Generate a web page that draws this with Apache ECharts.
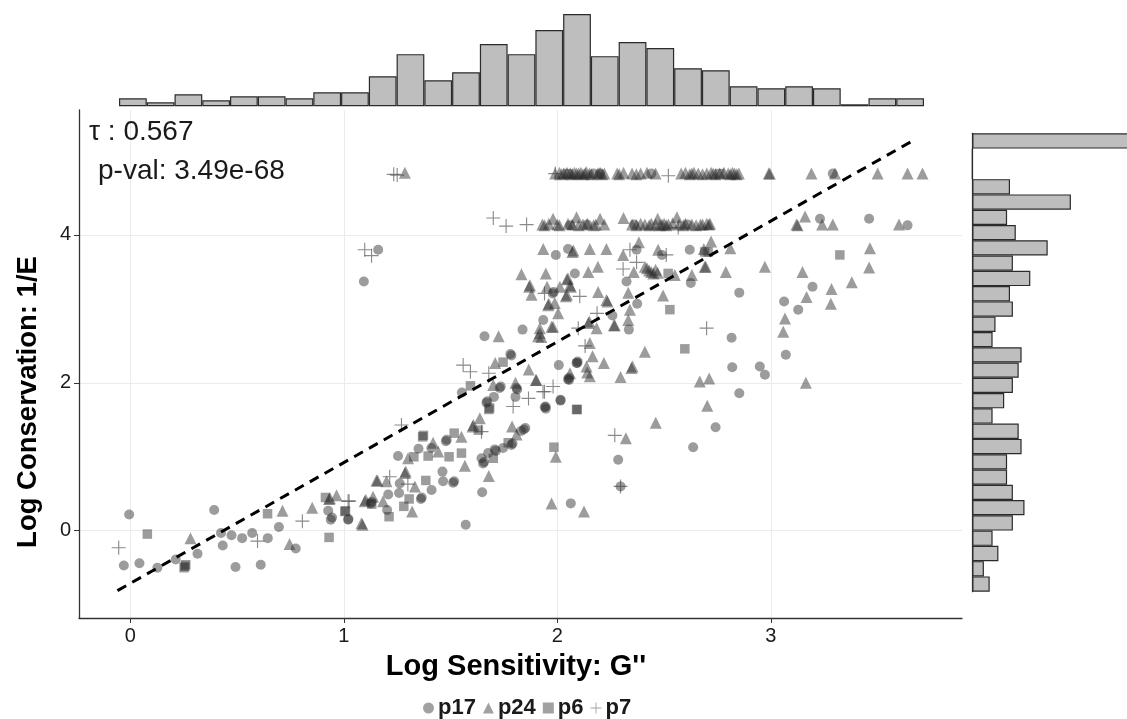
<!DOCTYPE html>
<html>
<head>
<meta charset="utf-8">
<script src="https://cdn.jsdelivr.net/npm/echarts/dist/echarts.min.js"></script>
<style>
html,body{margin:0;padding:0;background:#fff;}
#chart{width:1127px;height:719px;}
</style>
</head>
<body>
<div id="chart"></div>
<script>
// ---------------- data ----------------
const p17 = [
[-0.005,0.22],[-0.03,-0.47],[0.043,-0.44],[0.127,-0.5],[0.213,-0.39],[0.315,-0.31],[0.393,0.28],[0.425,-0.03],[0.433,-0.2],[0.474,-0.06],[0.493,-0.49],[0.524,-0.10],[0.571,-0.03],[0.611,-0.46],[0.644,-0.10],[0.696,0.05],[0.775,-0.24],[0.927,0.27],[0.939,0.15],[0.945,0.18],[1.022,0.16],
[1.659,2.63],[1.837,2.72],[1.553,1.87],[1.78,2.39],[1.785,2.37],[1.73,1.93],[1.735,1.95],[1.703,1.81],[1.668,1.73],[1.672,1.75],[1.809,1.93],[1.812,1.91],[1.804,1.81],[1.945,1.68],[2.015,1.76],[2.007,2.24],[2.093,2.27],[2.055,2.04],[1.843,1.37],[1.85,1.39],[1.83,1.35],[1.785,1.16],[1.79,1.18],[1.746,1.12],[1.707,1.10],[1.712,1.08],[1.676,1.05],[1.645,0.98],[1.652,0.91],[1.657,0.93],[1.648,0.52],[1.571,0.08],[1.478,1.21],[1.482,1.23],[1.35,1.11],[1.41,1.12],[1.254,1.01],[1.462,0.80],[1.465,0.67],[1.512,0.65],[1.517,0.67],[1.411,0.55],[1.361,0.43],[1.365,0.45],[1.262,0.64],[1.259,0.51],[1.208,0.49],[1.203,0.28],[1.126,0.37],[1.13,0.39],[1.02,0.15],[2.063,0.37],
[2.816,2.61],[2.819,2.21],[2.948,2.22],[2.972,2.11],[2.852,1.86],[2.741,1.40],[2.636,1.13],[2.285,0.96],[2.296,0.60],[2.335,2.72],[2.09,2.27],[2.095,2.29],[2.05,2.05],[2.055,2.07],[2.015,1.77],[1.941,1.67],[1.946,1.65],
[3.29,4.83],[3.23,4.22],[3.46,4.22],[3.64,4.13],[3.195,3.30],[2.852,3.22],[3.062,3.10],[3.128,2.99],[3.07,2.38],
[1.993,3.73],[2.05,3.81],[2.371,3.80],[2.49,3.73],[2.62,3.80],[2.625,3.35],[2.324,3.37],[2.374,3.07],[2.258,2.91],[2.082,3.48],[1.978,3.21],[1.983,3.23],[1.934,2.85],[2.17,4.83],[2.06,4.13],[2.36,4.14],[2.44,4.83],[2.61,4.14],[2.2,4.83],[2.14,4.14],
[1.161,3.80],[1.094,3.37]
];
const p24 = [
[0.282,-0.10],[0.713,0.27],[0.746,-0.18],[0.852,0.31],[0.931,0.43],[0.935,0.44],[0.966,0.48],[1.088,0.08],[1.103,0.42],[1.137,0.46],[1.153,0.68],
[1.725,2.63],[1.918,2.67],[1.925,2.62],[1.709,2.27],[1.70,1.97],[1.804,2.0],[1.866,2.18],[1.902,2.04],[2.059,2.13],[2.137,2.22],[2.14,2.14],[1.637,1.52],[1.603,1.41],[1.607,1.43],[1.788,1.41],[1.809,1.30],[1.679,0.74],[1.567,0.88],[1.551,1.27],[1.418,1.19],[1.442,1.07],[1.301,0.98],[1.333,0.60],[1.286,0.78],[1.29,0.80],[1.32,0.26],[1.2,0.67],[1.158,0.68],[1.184,0.40],[1.098,0.40],[1.083,0.10],[1.973,0.37],[2.125,0.26],[1.993,1.0],
[2.41,2.42],[2.667,2.02],[2.711,2.06],[2.702,1.69],[2.461,1.46],[2.321,1.25],[2.218,2.27],[2.296,2.08],[2.347,2.2],[2.352,2.22],[2.165,2.36],[2.152,2.09],[1.899,2.04],[2.269,2.78],[2.152,2.54],[1.91,2.63],[1.98,2.76],[2.184,2.74],
[2.99,4.83],[2.995,4.83],[3.19,4.83],[3.30,4.83],[3.50,4.83],[3.64,4.83],[3.71,4.83],
[2.67,4.14],[2.71,4.14],[2.715,4.15],[3.12,4.14],[3.125,4.13],[3.16,4.25],[3.24,4.14],[3.29,4.14],[3.60,4.14],
[2.72,3.91],[2.81,3.82],[2.695,3.57],[2.789,3.50],[2.972,3.57],[3.464,3.82],[3.46,3.56],[3.148,3.50],[3.379,3.36],[3.284,3.27],[3.167,3.16],[3.281,3.07],[3.066,2.87],[3.058,2.69],[3.164,2.0],
[1.934,3.81],[2.071,3.77],[2.075,3.79],[2.152,3.81],[2.23,3.81],[2.308,3.73],[2.382,3.90],[2.472,3.80],[2.686,3.81],[2.41,3.57],[2.43,3.52],[2.44,3.50],[2.45,3.48],[2.46,3.53],[2.47,3.49],[2.42,3.55],[2.55,3.46],[2.63,3.46],[2.69,3.57],[2.358,3.50],[2.332,3.22],[2.495,3.18],[2.34,2.99],[2.332,2.85],[2.265,2.78],[2.191,3.23],[2.23,3.12],[2.235,3.10],[2.145,2.81],[2.15,2.83],[2.145,3.50],[2.19,3.57],[2.05,3.41],[2.045,3.40],[2.059,3.32],[2.063,3.30],[1.946,3.48],[1.832,3.47],[1.868,3.30],[1.872,3.32],[1.879,3.19],[1.952,3.30],[2.012,3.30],[2.04,3.17],[2.045,3.19],[1.957,3.05],[1.96,3.07],[1.988,3.08],[2.004,2.94],[1.918,2.74],[1.973,2.76],
[1.286,4.84],
[1.99,4.83],[2.01,4.84],[2.02,4.82],[2.03,4.83],[2.045,4.84],[2.06,4.83],[2.07,4.82],[2.08,4.84],[2.09,4.83],[2.1,4.83],[2.11,4.84],[2.12,4.82],[2.13,4.83],[2.135,4.85],[2.15,4.83],[2.16,4.82],[2.19,4.83],[2.2,4.84],[2.21,4.82],[2.22,4.83],[2.28,4.83],[2.29,4.82],[2.31,4.84],[2.35,4.83],[2.37,4.82],[2.39,4.83],[2.42,4.84],[2.46,4.83],[2.58,4.83],[2.6,4.84],[2.62,4.82],[2.63,4.83],[2.64,4.84],[2.66,4.83],[2.68,4.82],[2.7,4.83],[2.72,4.84],[2.73,4.83],[2.74,4.82],[2.76,4.83],[2.78,4.84],[2.8,4.83],[2.81,4.82],[2.82,4.84],[2.83,4.83],[2.84,4.82],[2.85,4.83],
[1.93,4.14],[1.94,4.13],[1.96,4.15],[1.98,4.22],[2.0,4.14],[2.01,4.13],[2.05,4.15],[2.07,4.14],[2.09,4.24],[2.1,4.13],[2.12,4.14],[2.14,4.15],[2.17,4.13],[2.18,4.14],[2.2,4.22],[2.22,4.14],[2.31,4.23],[2.35,4.14],[2.37,4.13],[2.39,4.15],[2.41,4.14],[2.43,4.13],[2.44,4.15],[2.46,4.14],[2.47,4.22],[2.48,4.13],[2.49,4.14],[2.5,4.15],[2.51,4.13],[2.52,4.14],[2.54,4.16],[2.56,4.24],[2.57,4.14],[2.59,4.13],[2.6,4.15],[2.63,4.14],[2.65,4.13],[2.68,4.14],[2.7,4.15]
];
const p6 = [
[0.08,-0.045],[0.26,-0.46],[0.252,-0.5],[0.256,-0.48],[0.643,0.23],[0.914,0.45],[0.931,-0.09],[1.008,0.27],[1.131,0.36],
[1.593,1.96],[1.746,2.28],[1.679,1.64],[1.683,1.66],[1.63,1.36],[1.77,1.19],[1.70,0.98],[1.551,1.05],[1.493,1.0],[1.517,1.32],[1.369,1.27],[1.373,1.29],[1.395,1.01],[1.328,1.0],[1.384,0.68],[1.306,0.43],[1.281,0.33],[1.212,0.19],[1.005,0.26],[2.093,1.64],[1.984,1.13],
[2.597,2.46],[2.09,1.64],[2.706,3.77],[3.323,3.73],[2.519,3.48],[2.527,2.99],[2.69,3.77],[2.76,4.83],[2.05,4.83]
];
const p7 = [
[-0.054,-0.23],[0.596,-0.14],[0.806,0.13],[1.02,0.40],[1.025,0.40],[1.215,0.73],[1.30,0.63],[1.27,1.43],[1.559,2.24],[1.593,2.15],[1.679,2.13],[1.793,1.68],[1.865,1.79],[1.933,1.88],[1.98,1.95],[1.94,1.88],[1.645,1.34],[2.699,2.74],[2.269,1.29],[2.296,0.60],[2.098,2.74],[2.13,2.5],
[1.70,4.23],[1.76,4.12],[1.856,4.14],[2.566,4.10],[2.52,4.80],[1.234,4.82],[1.25,4.81],[1.098,3.80],[1.13,3.72],[2.34,3.80],[2.51,3.73],[2.371,3.63],[2.308,3.54],[1.94,3.21],[2.105,3.17],[2.186,2.94],[1.99,4.83]
];
const trendLine = [[-0.06,-0.81],[3.68,5.30]];
const xTicks = [0,1,2,3];
const yTicks = [0,2,4];
// marginal histograms (counts per bin)
const topHistCounts = [4,2,6,3,5,5,4,7,7,15,26,13,17,31,26,38,46,25,32,29,19,18,10,9,10,9,1,4,4];
const rightHistCounts = [6,4,9,7,14,18,14,12,12,17,16,7,11,14,16,17,7,8,14,13,20,14,26,15,12,34,13,0,0,58]; // bottom -> top
const seriesNames = ['p17','p24','p6','p7'];
const xTitle = "Log Sensitivity: G''";
const yTitle = 'Log Conservation: 1/E';
const annotation1 = 'τ : 0.567';
const annotation2 = 'p-val: 3.49e-68';

// ---------------- chart ----------------
const FONT = '"Liberation Sans", Arial, Helvetica, sans-serif';
const PLUS = 'path://M4.6,0h0.8v4.6h4.6v0.8h-4.6v4.6h-0.8v-4.6h-4.6v-0.8h4.6z';
const ptColor = 'rgba(40,40,40,0.58)';
const chart = echarts.init(document.getElementById('chart'), null, {renderer:'canvas'});

const histStyle = {color:'#bebebe', borderColor:'#2b2b2b', borderWidth:1.2};

const option = {
  animation:false,
  backgroundColor:'#ffffff',
  textStyle:{fontFamily:FONT},
  grid:[
    {left:79, right:165, top:110, bottom:101, outerBoundsMode:'none', containLabel:false},
    {left:119, width:805, top:14, height:92.3, outerBoundsMode:'none', containLabel:false},
    {left:972.3, width:174, top:133.3, height:458.4, outerBoundsMode:'none', containLabel:false}
  ],
  xAxis:[
    {gridIndex:0, type:'value', min:-0.24, max:3.895,
     axisLine:{show:true, onZero:false, lineStyle:{color:'#333', width:1.3}},
     axisTick:{show:true, length:5, lineStyle:{color:'#333'}, customValues:xTicks},
     axisLabel:{color:'#1a1a1a', fontSize:20, margin:8, fontFamily:FONT, customValues:xTicks},
     splitLine:{show:false}},
    {gridIndex:1, type:'category', data:topHistCounts.map((c,i)=>String(i)),
     axisLine:{show:false}, axisTick:{show:false}, axisLabel:{show:false}, splitLine:{show:false}},
    {gridIndex:2, type:'value', min:0, max:60, show:false}
  ],
  yAxis:[
    {gridIndex:0, type:'value', min:-1.18, max:5.69,
     axisLine:{show:true, onZero:false, lineStyle:{color:'#333', width:1.3}},
     axisTick:{show:true, length:5, lineStyle:{color:'#333'}, customValues:yTicks},
     axisLabel:{color:'#1a1a1a', fontSize:20, margin:8, fontFamily:FONT, customValues:yTicks},
     splitLine:{show:false}},
    {gridIndex:1, type:'value', min:0, max:46, show:false},
    {gridIndex:2, type:'category', data:rightHistCounts.map((c,i)=>String(i)),
     axisLine:{show:true, lineStyle:{color:'#2b2b2b', width:1.2}}, axisTick:{show:false}, axisLabel:{show:false}, splitLine:{show:false}}
  ],
  legend:{
    data:seriesNames, left:418, top:692, itemGap:7, itemWidth:11, itemHeight:11,
    textStyle:{fontSize:22, fontWeight:'bold', color:'#1a1a1a', fontFamily:FONT, padding:[0,0,0,-1]},
    itemStyle:{color:'rgba(40,40,40,0.55)'}
  },
  graphic:[
    {type:'text', z:100, left:89, top:118, style:{text:annotation1, font:'28px "Liberation Sans", Arial, sans-serif', fill:'#1a1a1a'}},
    {type:'text', z:100, left:98, top:157, style:{text:annotation2, font:'28px "Liberation Sans", Arial, sans-serif', fill:'#1a1a1a'}},
    {type:'text', z:100, x:516, y:667, style:{text:xTitle, font:'bold 29px "Liberation Sans", Arial, sans-serif', fill:'#000', align:'center', verticalAlign:'middle'}},
    {type:'text', z:100, x:28, y:402, rotation:Math.PI/2, style:{text:yTitle, font:'bold 27.5px "Liberation Sans", Arial, sans-serif', fill:'#000', align:'center', verticalAlign:'middle'}}
  ],
  series:[
    {type:'scatter', xAxisIndex:0, yAxisIndex:0, data:[], z:0, silent:true,
     markLine:{silent:true, symbol:'none', label:{show:false}, animation:false, z:0,
       lineStyle:{color:'#ebebeb', width:1, type:'solid'},
       data:xTicks.map(v=>({xAxis:v})).concat(yTicks.map(v=>({yAxis:v})))}},
    {name:'p17', type:'scatter', data:p17, symbol:'circle', symbolSize:10, itemStyle:{color:ptColor}, z:3},
    {name:'p24', type:'scatter', data:p24, symbol:'triangle', symbolSize:12, itemStyle:{color:ptColor}, z:3},
    {name:'p6', type:'scatter', data:p6, symbol:'rect', symbolSize:9.5, itemStyle:{color:ptColor}, z:3},
    {name:'p7', type:'scatter', data:p7, symbol:PLUS, symbolSize:14, itemStyle:{color:'rgba(60,60,60,0.75)'}, z:3},
    {type:'line', data:trendLine, showSymbol:false, symbol:'none', z:5, silent:true,
     lineStyle:{color:'#000', width:3, type:[10,7]}},
    {type:'bar', xAxisIndex:1, yAxisIndex:1, data:topHistCounts, barWidth:'100%', barCategoryGap:'0%', itemStyle:histStyle, silent:true},
    {type:'bar', xAxisIndex:2, yAxisIndex:2, data:rightHistCounts, barWidth:'100%', barCategoryGap:'0%', itemStyle:histStyle, silent:true}
  ]
};
chart.setOption(option);
</script>
</body>
</html>
